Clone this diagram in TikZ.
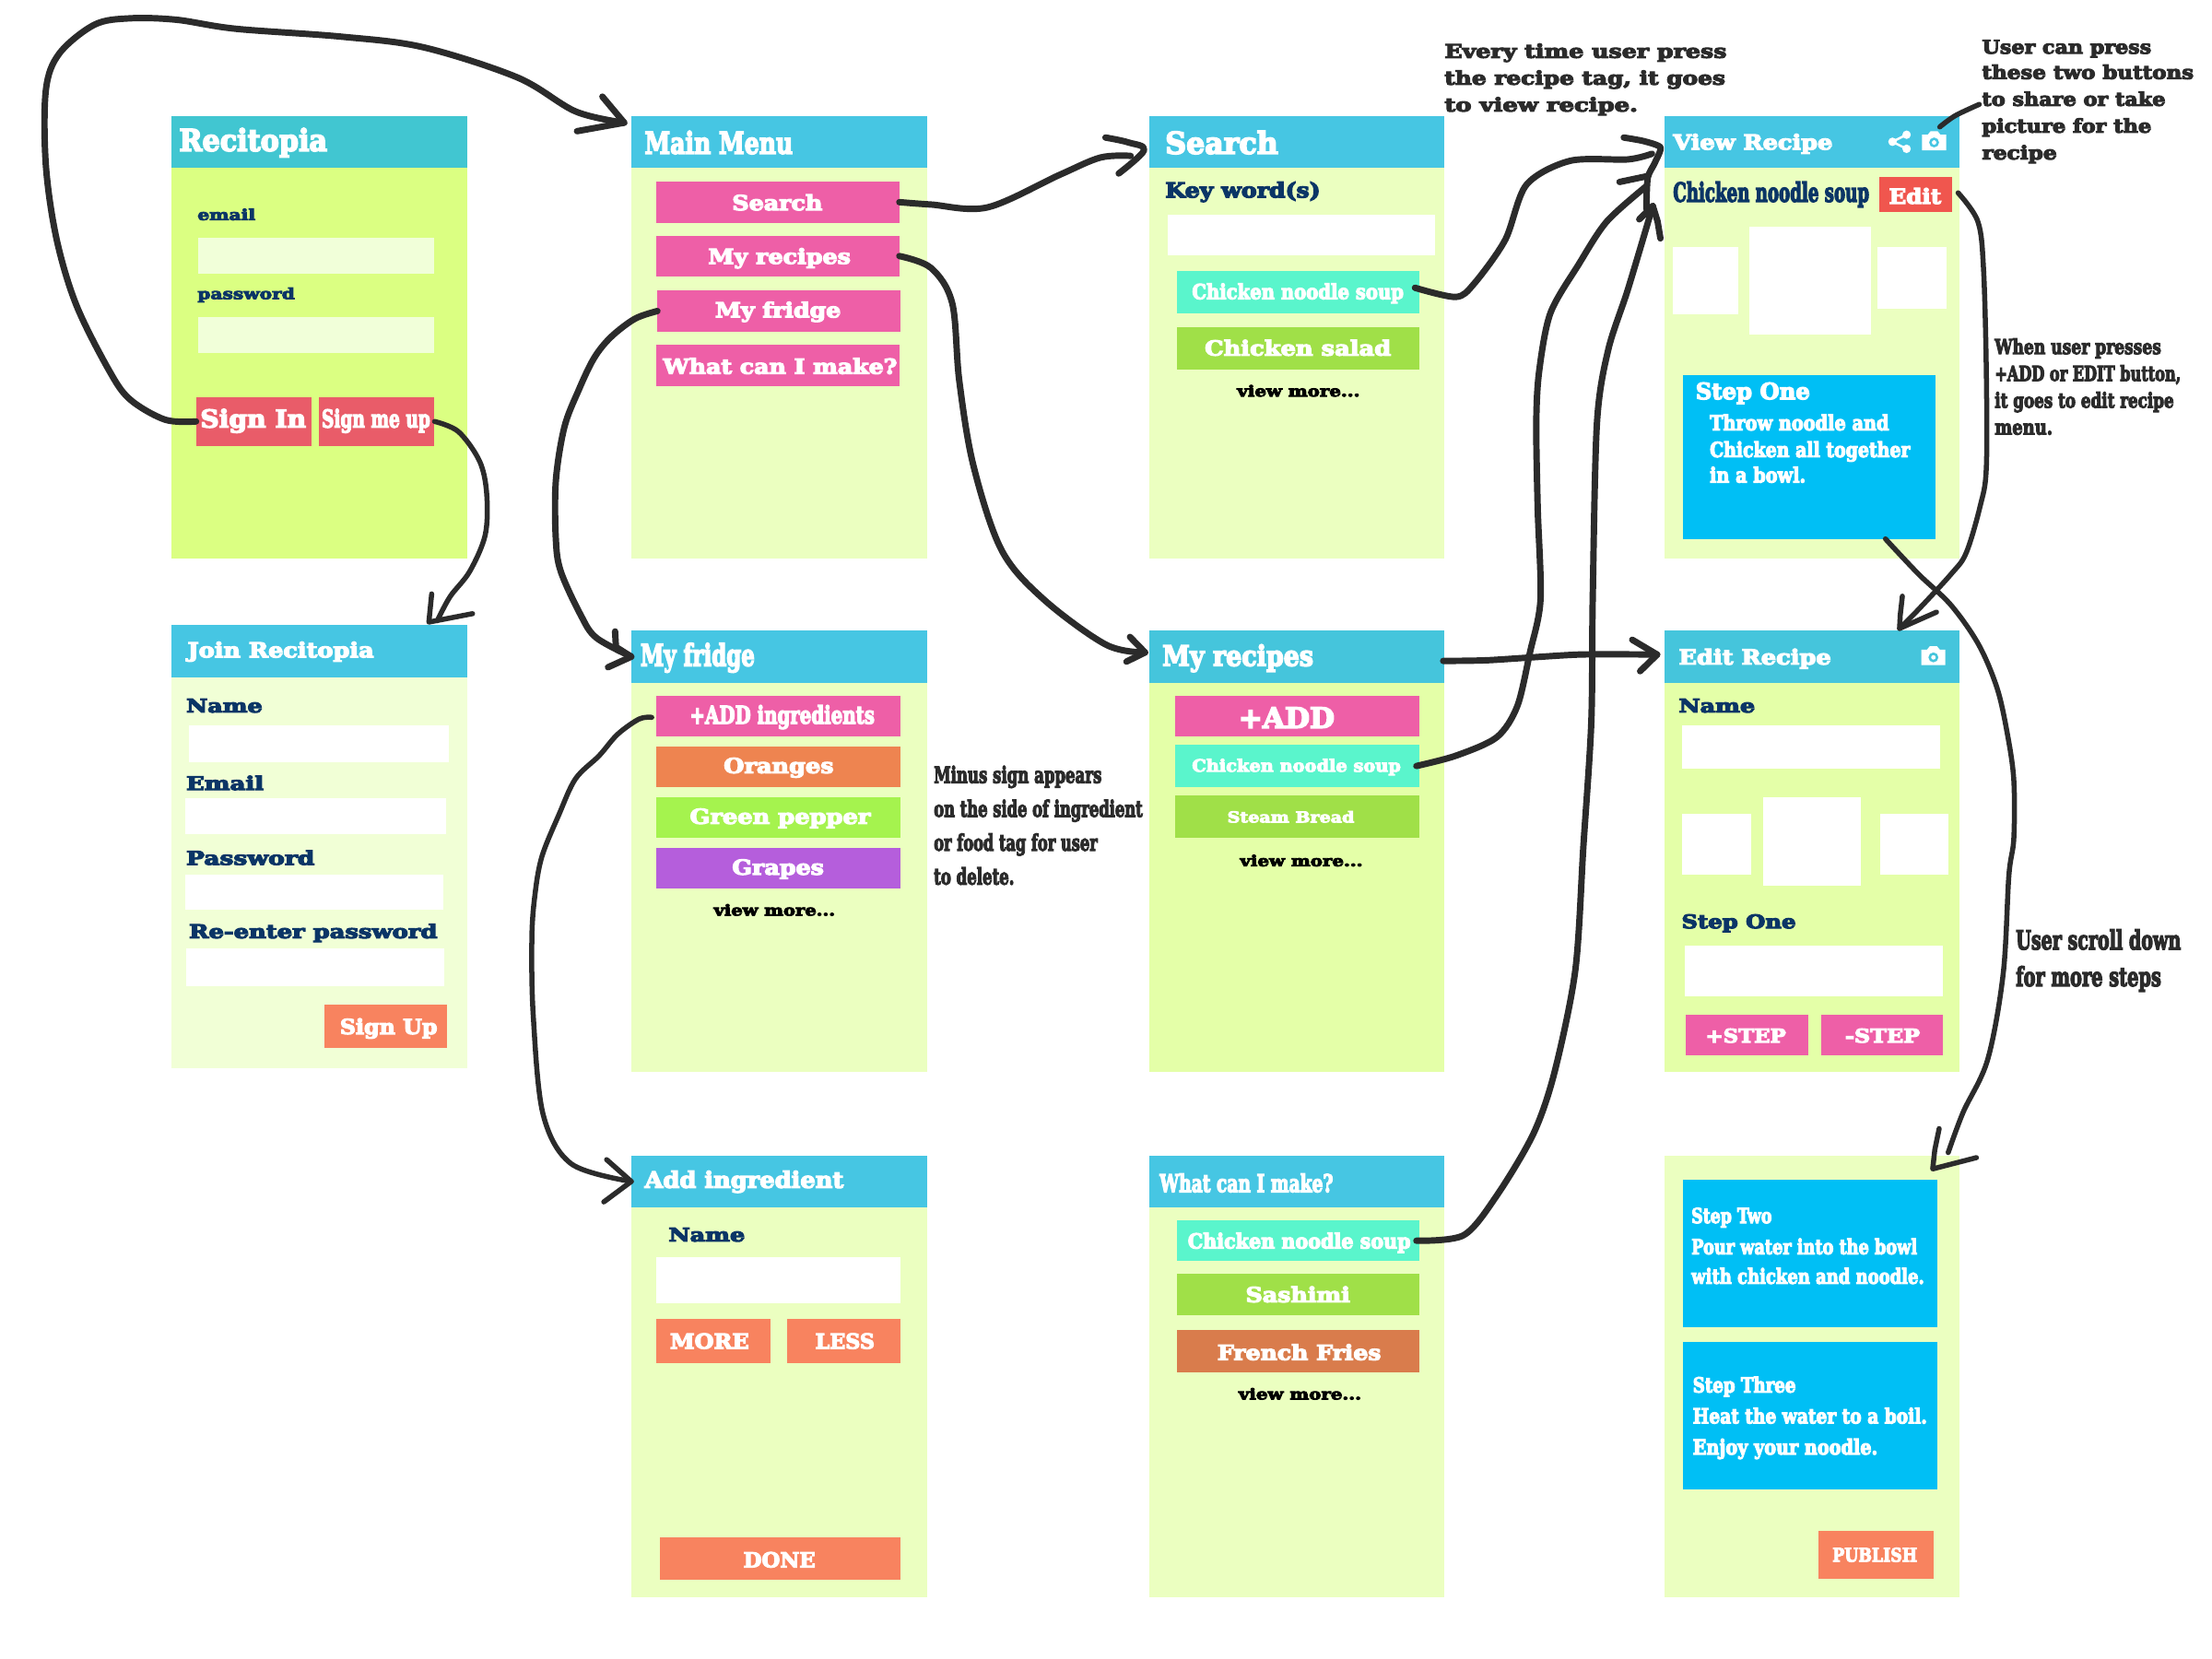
\documentclass[tikz,border=0pt]{standalone}
\usepackage{fontspec}
\usepackage{graphicx}
\newfontfamily\slab{DejaVu Serif Bold}[RawFeature={embolden=5}]
\newsavebox\fitbox
\newcommand\fitw[4]{\sbox\fitbox{\fontsize{#3pt}{#3pt}\selectfont\slab #4}\pgfmathsetmacro\xs{(#2-#1)*0.75/\the\wd\fitbox}\scalebox{\xs}[1]{\usebox\fitbox}}
\newcommand\Txt[7]{\node[txt,text=#6] (#1) at (#2,#4) {\fitw{#2}{#3}{#5}{#7}};}
\newcommand\Bx[6]{\node[bx,fill=#6] (#1) at ({(#2+#4)/2},{(#3+#5)/2}) [minimum width={(#4-#2)*0.75pt},minimum height={(#5-#3)*0.75pt}] {};}
\newcommand\Cam[3]{\path[fill=white,even odd rule] (#1,#2) ++(-8.5,-4.5) -- ++(4,0) -- ++(2,-2.5) -- ++(5,0) -- ++(2,2.5) -- ++(4,0) -- ++(0,11) -- ++(-17,0) -- cycle (#1,#2+1) circle (3.6);\fill[white] (#1,#2+1) circle (1.6);}
\definecolor{head}{HTML}{46C6E3}
\definecolor{headb}{HTML}{41C6D1}
\definecolor{headc}{HTML}{45C5DC}
\definecolor{body}{HTML}{EBFFC0}
\definecolor{bodyg}{HTML}{DBFF82}
\definecolor{bodyl}{HTML}{F1FFD6}
\definecolor{bodyb}{HTML}{E4FFA8}
\definecolor{inputg}{HTML}{F1FFD9}
\definecolor{pink}{HTML}{EE5FA7}
\definecolor{rose}{HTML}{E95C69}
\definecolor{coral}{HTML}{F8835F}
\definecolor{teal}{HTML}{5AF5CC}
\definecolor{leaf}{HTML}{A0E048}
\definecolor{lime}{HTML}{A5F34E}
\definecolor{orng}{HTML}{EE8450}
\definecolor{purp}{HTML}{B55EDC}
\definecolor{brwn}{HTML}{D97C4C}
\definecolor{sky}{HTML}{00BFF5}
\definecolor{editr}{HTML}{F0564E}
\definecolor{navy}{HTML}{0B3566}
\definecolor{ink}{HTML}{2B2B2B}
\tikzset{
 bx/.style={rectangle,inner sep=0pt,outer sep=0pt,draw=none},
 txt/.style={anchor=base west,inner sep=0pt,outer sep=0pt},
 hand/.style={draw=ink,line width=3.4pt,line cap=round,line join=round},
 thin hand/.style={draw=ink,line width=2.7pt,line cap=round,line join=round},
}
\begin{document}
\begin{tikzpicture}[x=0.75pt,y=-0.75pt]
\useasboundingbox (0,0) rectangle (1568,1176);
\fill[white] (0,0) rectangle (1568,1176);
% Recitopia
\Bx{rbody}{121.7}{119}{331}{396}{bodyg}
\Bx{rhead}{121.7}{82}{331}{119}{headb}
\Txt{rtitle}{127}{232}{107}{16}{white}{Recitopia}
\Txt{remail}{140}{181}{156}{8}{navy}{email}
\Bx{rin1}{140.5}{168.5}{308}{194}{inputg}
\Txt{rpass}{140}{209}{212}{8}{navy}{password}
\Bx{rin2}{140.5}{225}{308}{250}{inputg}
\Bx{signin}{139}{281.5}{221}{316}{rose}
\Txt{tsignin}{142}{217}{303}{13}{white}{Sign In}
\Bx{signup}{226}{281.5}{308}{316}{rose}
\Txt{tsignup}{228}{305}{303}{13}{white}{Sign me up}
% Join
\Bx{jbody}{121.7}{480}{331}{757}{bodyl}
\Bx{jhead}{121.7}{443}{331}{480}{head}
\Txt{jtitle}{133}{265}{466}{11}{white}{Join Recitopia}
\Txt{jname}{132}{186}{505}{10}{navy}{Name}
\Bx{jin1}{134}{514}{318}{540}{white}
\Txt{jemail}{132}{187}{560}{10}{navy}{Email}
\Bx{jin2}{131}{566}{316}{591}{white}
\Txt{jpass}{132}{223}{613}{10}{navy}{Password}
\Bx{jin3}{131}{620}{314}{645}{white}
\Txt{jre}{134}{310}{665}{10}{navy}{Re-enter password}
\Bx{jin4}{132}{672}{315}{699}{white}
\Bx{jbtn}{230}{712}{317}{743}{coral}
\Txt{jbtnt}{241}{310}{733}{11}{white}{Sign Up}
% Main Menu
\Bx{mbody}{447.5}{119}{657}{396}{body}
\Bx{mhead}{447.5}{82}{657}{119}{head}
\Txt{mtitle}{457}{562}{109}{16}{white}{Main Menu}
\Bx{msearch}{465}{128.6}{637.5}{158}{pink}
\Txt{tmsearch}{519}{583}{149}{11}{white}{Search}
\Bx{mrec}{465}{167}{637.5}{196}{pink}
\Txt{tmrec}{502}{603}{187}{11}{white}{My recipes}
\Bx{mfri}{466}{206}{638}{235}{pink}
\Txt{tmfri}{507}{596}{225}{11}{white}{My fridge}
\Bx{mwhat}{465}{244.5}{637.5}{274}{pink}
\Txt{tmwhat}{470}{636}{265}{11}{white}{What can I make?}
% My fridge
\Bx{fbody}{447.5}{484}{657}{760}{body}
\Bx{fhead}{447.5}{447}{657}{484}{head}
\Txt{ftitle}{454}{535}{472}{16}{white}{My fridge}
\Bx{fadd}{465}{493}{638}{522}{pink}
\Txt{tfadd}{489}{620}{513}{13}{white}{+ADD ingredients}
\Bx{fora}{465}{529}{638}{558}{orng}
\Txt{tfora}{513}{591}{548}{11}{white}{Oranges}
\Bx{fgre}{465}{565}{638}{594}{lime}
\Txt{tfgre}{489}{617}{584}{11}{white}{Green pepper}
\Bx{fgra}{465}{601}{638}{630}{purp}
\Txt{tfgra}{519}{584}{620}{11}{white}{Grapes}
\Txt{fmore}{506}{592}{649}{8}{black}{view more...}
\Txt{min1}{662}{781}{555}{12}{ink}{Minus sign appears}
\Txt{min2}{662}{810}{579}{12}{ink}{on the side of ingredient}
\Txt{min3}{662}{778}{603}{12}{ink}{or food tag for user}
\Txt{min4}{662}{719}{627}{12}{ink}{to delete.}
% Add ingredient
\Bx{abody}{447.5}{856}{657}{1132}{body}
\Bx{ahead}{447.5}{819}{657}{856}{head}
\Txt{atitle}{457}{598}{842}{12}{white}{Add ingredient}
\Txt{aname}{474}{528}{880}{10}{navy}{Name}
\Bx{ain}{465}{891}{638}{924}{white}
\Bx{amore}{465}{935}{546}{966}{coral}
\Txt{tamore}{475}{531}{956}{11}{white}{MORE}
\Bx{aless}{558}{935}{638}{966}{coral}
\Txt{taless}{578}{620}{956}{11}{white}{LESS}
\Bx{adone}{468}{1090}{638}{1120}{coral}
\Txt{tadone}{527}{578}{1111}{11}{white}{DONE}
% Search
\Bx{sbody}{815}{119}{1024}{396}{body}
\Bx{shead}{815}{82}{1024}{119}{head}
\Txt{stitle}{826}{906}{109}{16}{white}{Search}
\Txt{skey}{826}{936}{140}{11}{navy}{Key word(s)}
\Bx{sin}{828}{152}{1017}{181}{white}
\Bx{ssoup}{834}{192}{1006}{222}{teal}
\Txt{tssoup}{845}{995}{212}{11}{white}{Chicken noodle soup}
\Bx{ssal}{834}{232}{1006}{262}{leaf}
\Txt{tssal}{854}{986}{252}{11}{white}{Chicken salad}
\Txt{smore}{877}{964}{281}{8}{black}{view more...}
% My recipes
\Bx{rcbody}{815}{484}{1024}{760}{bodyb}
\Bx{rchead}{815}{447}{1024}{484}{headc}
\Txt{rctitle}{824}{931}{472}{15}{white}{My recipes}
\Bx{rcadd}{833}{493}{1006}{522}{pink}
\Txt{trcadd}{878}{946}{516}{15}{white}{+ADD}
\Bx{rcsoup}{833}{528}{1006}{558}{teal}
\Txt{trcsoup}{845}{993}{547}{9}{white}{Chicken noodle soup}
\Bx{rcst}{833}{564}{1006}{594}{leaf}
\Txt{trcst}{870}{960}{583}{8}{white}{Steam Bread}
\Txt{rcmore}{879}{966}{614}{8}{black}{view more...}
% What can I make
\Bx{wbody}{815}{856}{1024}{1132}{body}
\Bx{whead}{815}{819}{1024}{856}{head}
\Txt{wtitle}{822}{945}{845}{13}{white}{What can I make?}
\Bx{wsoup}{834}{865}{1006}{894}{teal}
\Txt{twsoup}{842}{1000}{885}{11}{white}{Chicken noodle soup}
\Bx{wsas}{834}{903}{1006}{932}{leaf}
\Txt{twsas}{883}{957}{923}{11}{white}{Sashimi}
\Bx{wfr}{834}{943}{1006}{973}{brwn}
\Txt{twfr}{863}{979}{964}{11}{white}{French Fries}
\Txt{wmore}{878}{965}{992}{8}{black}{view more...}
% View Recipe
\Bx{vbody}{1180}{119}{1389}{396}{body}
\Bx{vhead}{1180}{82}{1389}{119}{head}
\Txt{vtitle}{1186}{1299}{106}{11}{white}{View Recipe}
\fill[white] (1341.5,100.5) circle (3) (1351.5,95.5) circle (3) (1351.5,105.5) circle (3);
\draw[white,line width=1.2pt] (1351.5,95.5) -- (1341.5,100.5) -- (1351.5,105.5);
\Cam{1371}{100}{}
\Txt{vname}{1186}{1325}{143}{14}{navy}{Chicken noodle soup}
\Bx{vedit}{1332}{125.4}{1384}{150}{editr}
\Txt{tvedit}{1339}{1376}{144.4}{11}{white}{Edit}
\Bx{vi1}{1186}{175}{1232}{222.5}{white}
\Bx{vi2}{1240}{161}{1326}{237}{white}
\Bx{vi3}{1331}{175}{1379.6}{219}{white}
\Bx{vstep}{1193}{266}{1372}{382}{sky}
\Txt{vs0}{1202}{1283}{283}{12}{white}{Step One}
\Txt{vs1}{1212}{1339}{305}{11}{white}{Throw noodle and}
\Txt{vs2}{1212}{1354}{324}{11}{white}{Chicken all together}
\Txt{vs3}{1212}{1280}{342}{11}{white}{in a bowl.}
% Edit Recipe
\Bx{ebody}{1180}{484}{1389}{760}{bodyb}
\Bx{ehead}{1180}{447}{1389}{484}{headc}
\Txt{etitle}{1190}{1298}{471}{11}{white}{Edit Recipe}
\Cam{1370.5}{465}{}
\Txt{ename}{1190}{1244}{505}{10}{navy}{Name}
\Bx{ein1}{1192}{514}{1375}{545}{white}
\Bx{ei1}{1192}{577}{1241}{620}{white}
\Bx{ei2}{1250}{565}{1319}{628}{white}
\Bx{ei3}{1333}{577}{1381}{620}{white}
\Txt{estep}{1192}{1273}{658}{10}{navy}{Step One}
\Bx{ein2}{1194}{670}{1377}{706}{white}
\Bx{eplus}{1195}{719}{1282}{748}{pink}
\Txt{teplus}{1209}{1266}{739}{10}{white}{+STEP}
\Bx{eminus}{1291}{719}{1377}{748}{pink}
\Txt{teminus}{1308}{1361}{739}{10}{white}{-STEP}
% Steps
\Bx{pbody}{1180}{819}{1389}{1132}{body}
\Bx{pb1}{1193}{836}{1373}{941}{sky}
\Txt{p1a}{1199}{1256}{867}{11}{white}{Step Two}
\Txt{p1b}{1199}{1359}{889}{11}{white}{Pour water into the bowl}
\Txt{p1c}{1199}{1364}{910}{11}{white}{with chicken and noodle.}
\Bx{pb2}{1193}{951}{1373}{1056}{sky}
\Txt{p2a}{1200}{1273}{987}{11}{white}{Step Three}
\Txt{p2b}{1200}{1366}{1009}{11}{white}{Heat the water to a boil.}
\Txt{p2c}{1200}{1331}{1031}{11}{white}{Enjoy your noodle.}
\Bx{ppub}{1289}{1085}{1371}{1119}{coral}
\Txt{tppub}{1299}{1359}{1107}{10}{white}{PUBLISH}
% Notes
\Txt{e1}{1024}{1224}{41}{10}{ink}{Every time user press}
\Txt{e2}{1024}{1223}{60}{10}{ink}{the recipe tag, it goes}
\Txt{e3}{1024}{1161}{79}{10}{ink}{to view recipe.}
\Txt{u1}{1405}{1525}{38}{10}{ink}{User can press}
\Txt{u2}{1405}{1555}{56}{10}{ink}{these two buttons}
\Txt{u3}{1405}{1535}{75}{10}{ink}{to share or take}
\Txt{u4}{1405}{1525}{94}{10}{ink}{picture for the}
\Txt{u5}{1405}{1458}{113}{10}{ink}{recipe}
\Txt{w1}{1414}{1532}{251}{11}{ink}{When user presses}
\Txt{w2}{1414}{1546}{270}{11}{ink}{+ADD or EDIT button,}
\Txt{w3}{1414}{1541}{289}{11}{ink}{it goes to edit recipe}
\Txt{w4}{1414}{1455}{308}{11}{ink}{menu.}
\Txt{c1}{1429}{1546}{673}{14}{ink}{User scroll down}
\Txt{c2}{1429}{1532}{699}{14}{ink}{for more steps}
% Connectors
\draw[hand] plot[smooth,tension=0.55] coordinates {(signin.west) (117,297.5) (92,283) (77,262) (54,216) (40,169) (32.5,117) (32.5,64) (42,38) (67,17.5) (92,13) (125,14) (167,20.4) (242,26) (300,33.5) (367,55) (408,79) ([shift={(-5,5)}]mhead.north west)};
\draw[hand] (427,68.5) -- ([shift={(-5,5)}]mhead.north west) -- (409,93);
\draw[thin hand] plot[smooth,tension=0.55] coordinates {(signup.east) (325,306) (340,327) (345,350) (344,379) (333,405) (319,423) (310,440)};
\draw[thin hand] (306,421) -- ([shift={(-27,-2)}]jhead.north east) -- (335,435);
\draw[hand] plot[smooth,tension=0.55] coordinates {(msearch.east) (660,145) (700,147) (751,124) (780,111.7) ([shift={(-13.5,28.5)}]shead.north west)};
\draw[hand] plot[smooth,tension=0.6] coordinates {(783.6,97.5) (800,101) ([shift={(-4,6)}]shead.west) (793,123)};
\draw[hand] plot[smooth,tension=0.55] coordinates {(mrec.east) (660,190) (675,215) (680,270) (690,330) (710,390) (740,425) (784,457) ([shift={(-3.3,-3)}]rchead.west)};
\draw[hand] (801,451.5) -- ([shift={(-3.3,-3)}]rchead.west) -- (798.5,469);
\draw[hand] plot[smooth,tension=0.55] coordinates {(mfri.west) (450,226) (433,239) (421,254) (410,277) (400,303) (394,341) (394,382) (397.5,405) (411.5,435.7) (422.6,452) (fhead.west)};
\draw[hand] (436,447.6) -- (436.6,458.6) -- (fhead.west) -- (431,473);
\draw[thin hand] plot[smooth,tension=0.55] coordinates {([shift={(-3,1)}]fadd.west) (453,509.7) (437.7,520.6) (424.7,535.7) (408,552) (396.4,577) (384,607.6) (379,636) (377,666) (378,720) (385,790) (405,825) (ahead.west)};
\draw[thin hand] (430,822) -- (ahead.west) -- (428,852);
\draw[hand] plot[smooth,tension=0.5] coordinates {([shift={(-3,-3)}]ssoup.east) (1032,210.5) (1045,201) (1067,170) (1082,131) (1113,114) (1154,113) (1171,109)};
\draw[hand] plot[smooth,tension=0.4] coordinates {(1151,97.5) (1165,100) ([shift={(-3,4)}]vhead.west) (1173,115.5) (1168,126) (1167,148)};
\draw[hand] plot[smooth,tension=0.5] coordinates {([shift={(-2,0)}]rcsoup.east) (1032,535.7) (1061,522.6) (1075.5,500.7) (1084.5,462.6) (1092,425) (1090,360) (1089,300) (1091,263.5) (1099,222) (1119,187.5) (1139,157) ([shift={(-13,13)}]vhead.south west)};
\draw[hand] (1148,129) -- (1167,125);
\draw[hand] plot[smooth,tension=0.5] coordinates {([shift={(-2,0)}]wsoup.east) (1037.5,875.6) (1061,847.5) (1087,803.6) (1102,759.8) (1116.7,687.5) (1122.4,599.9) (1128,512) (1129,424.7) (1132,300) (1140,248) (1154,205) ([shift={(-8.4,27)}]vhead.south west)};
\draw[hand] (1162,155.5) -- ([shift={(-8.4,27)}]vhead.south west) -- (1175,157) -- (1177,169);
\draw[hand] plot[smooth,tension=0.4] coordinates {([shift={(-1,3)}]rchead.east) (1055,468) (1119,464) ([shift={(-5.3,-1.5)}]ehead.west)};
\draw[hand] (1157,453.5) -- ([shift={(-5.3,-1.5)}]ehead.west) -- (1162.6,475.8);
\draw[thin hand] plot[smooth,tension=0.55] coordinates {([shift={(4,-1)}]vedit.east) (1402,157) (1406,190) (1408,262) (1408,332) (1403.6,359) (1393.7,392) (1383,407) (1359,433) ([shift={(-42.5,-1.5)}]ehead.north east)};
\draw[thin hand] (1348.5,422.6) -- (1347,436) -- ([shift={(-42.5,-1.5)}]ehead.north east) -- (1372.7,433.9);
\draw[thin hand] plot[smooth,tension=0.55] coordinates {([shift={(54,0)}]vstep.south) (1360,407) (1383,429) (1402.6,457) (1415.7,488) (1423,520.6) (1427.5,553) (1427.5,594.5) (1424,620.7) (1420,690) (1409,751) (1391.6,788.4) ([shift={(-8,-2)}]pbody.north east)};
\draw[thin hand] (1374.6,800) -- (1371.5,815) -- ([shift={(-19,9.6)}]pbody.north east) -- (1401,820.6);
\draw[thin hand] plot[smooth,tension=0.55] coordinates {([shift={(-14,8)}]vhead.north east) (1386,82) (1403,74)};
\end{tikzpicture}
\end{document}
